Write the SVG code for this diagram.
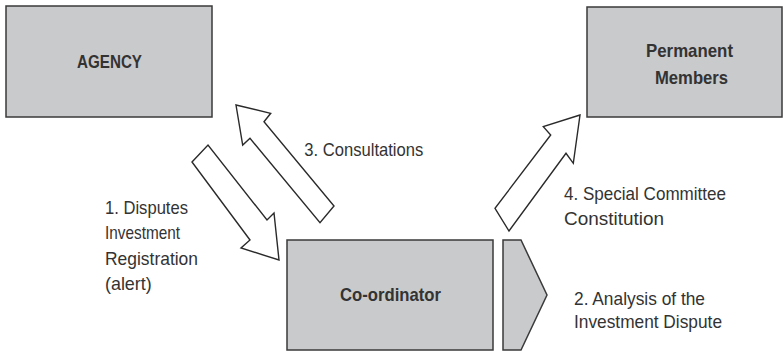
<svg xmlns="http://www.w3.org/2000/svg" width="783" height="351" viewBox="0 0 783 351">
<style>
.box{fill:#c9cacc;stroke:#3a3a3a;stroke-width:1.5}
.arr{fill:#ffffff;stroke:#2a2a2a;stroke-width:1.4;stroke-linejoin:miter}
.tb{font-family:"Liberation Sans",Arial,sans-serif;font-weight:bold;font-size:19px;fill:#333333}
.t{font-family:"Liberation Sans",Arial,sans-serif;font-size:19px;fill:#333333}
</style>
<rect width="783" height="351" fill="#ffffff"/>
<g id="agency">
<rect class="box" x="6" y="6" width="206" height="111"/>
<text class="tb" x="77" y="67.7" textLength="65" lengthAdjust="spacingAndGlyphs">AGENCY</text>
</g>
<g id="permanent-members">
<rect class="box" x="587" y="7" width="195" height="110"/>
<text class="tb" x="646" y="56.7" textLength="87" lengthAdjust="spacingAndGlyphs">Permanent</text>
<text class="tb" x="655" y="84.3" textLength="73" lengthAdjust="spacingAndGlyphs">Members</text>
</g>
<g id="coordinator">
<rect class="box" x="287" y="240" width="206" height="110"/>
<text class="tb" x="340" y="301" textLength="101" lengthAdjust="spacingAndGlyphs">Co-ordinator</text>
</g>
<g id="connectors">
<polygon id="arrow1" class="arr" points="192,162 208,145 267,220 274,213 279,260 241,248 250,240"/>
<polygon id="arrow3" class="arr" points="236,105 270.7,113.3 264,121.7 334,206 320,222.7 250,138.3 242.7,145"/>
<polygon id="arrow4" class="arr" points="580,115 543.3,126.7 550.7,135 495,208.3 509,231 566,153.3 573.3,163.3"/>
<polygon id="arrow2" class="box" points="503,240 521,240 547,295 521,350 503,350"/>
</g>
<g id="labels">
<text class="t" x="105" y="213.5" textLength="83" lengthAdjust="spacingAndGlyphs">1. Disputes</text>
<text class="t" x="105" y="239" textLength="75" lengthAdjust="spacingAndGlyphs">Investment</text>
<text class="t" x="105" y="264.5" textLength="93" lengthAdjust="spacingAndGlyphs">Registration</text>
<text class="t" x="105" y="290" textLength="46.7" lengthAdjust="spacingAndGlyphs">(alert)</text>
<text class="t" x="304.3" y="155.5" textLength="119" lengthAdjust="spacingAndGlyphs">3. Consultations</text>
<text class="t" x="564" y="200" textLength="162" lengthAdjust="spacingAndGlyphs">4. Special Committee</text>
<text class="t" x="564" y="225" textLength="100" lengthAdjust="spacingAndGlyphs">Constitution</text>
<text class="t" x="574" y="305" textLength="131" lengthAdjust="spacingAndGlyphs">2. Analysis of the</text>
<text class="t" x="574" y="328.3" textLength="148" lengthAdjust="spacingAndGlyphs">Investment Dispute</text>
</g>
</svg>
